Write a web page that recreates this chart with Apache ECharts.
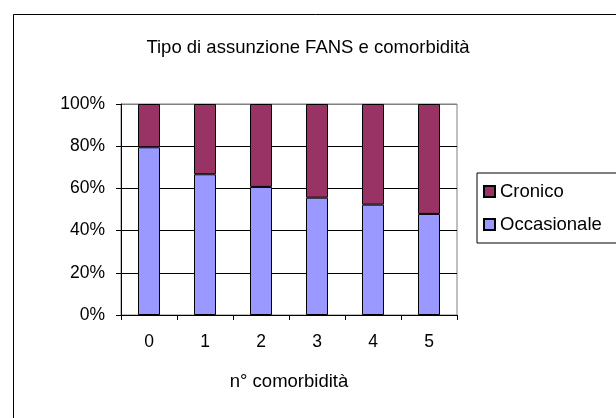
<!DOCTYPE html>
<html>
<head>
<meta charset="utf-8">
<script src="https://cdn.jsdelivr.net/npm/echarts@6/dist/echarts.min.js"></script>
<style>
html,body{margin:0;padding:0;background:#fff;}
#chart{width:616px;height:418px;}
</style>
</head>
<body>
<div id="chart"></div>
<script>
const categories = ['0', '1', '2', '3', '4', '5'];
const occasionale = [79.5, 66.7, 60.7, 55.6, 52.3, 47.9];
const cronico = [20.5, 33.3, 39.3, 44.4, 47.7, 52.1];
const yTicks = [0, 20, 40, 60, 80, 100];

const FONT = '"Liberation Sans", Arial, sans-serif';
const chart = echarts.init(document.getElementById('chart'), null, {renderer: 'canvas'});
chart.setOption({
  backgroundColor: '#fff',
  animation: false,
  title: {
    text: 'Tipo di assunzione FANS e comorbidità',
    left: 'center',
    top: 33,
    textStyle: {fontFamily: FONT, fontSize: 18.5, fontWeight: 'normal', color: '#000'}
  },
  legend: {
    orient: 'vertical',
    left: 477,
    top: 173,
    data: ['Cronico', 'Occasionale'],
    icon: 'rect',
    itemWidth: 11,
    itemHeight: 11,
    itemGap: 12,
    padding: [8, 30, 8, 6],
    borderColor: '#000',
    borderWidth: 1,
    textStyle: {fontFamily: FONT, fontSize: 18.5, color: '#000', lineHeight: 21}
  },
  grid: {left: 121, right: 159, top: 104, bottom: 103, show: true, borderColor: '#808080', borderWidth: 1},
  xAxis: {
    type: 'category',
    data: categories,
    name: 'n° comorbidità',
    nameLocation: 'middle',
    nameGap: 57,
    nameTextStyle: {fontFamily: FONT, fontSize: 18.5, color: '#000'},
    axisLine: {lineStyle: {color: '#000'}},
    axisTick: {show: true, length: 5, lineStyle: {color: '#000'}},
    axisLabel: {fontFamily: FONT, fontSize: 17.5, color: '#000', margin: 18}
  },
  yAxis: {
    type: 'value',
    min: yTicks[0],
    max: yTicks[yTicks.length - 1],
    interval: 20,
    axisLine: {show: true, lineStyle: {color: '#000'}},
    axisTick: {show: true, length: 5, lineStyle: {color: '#000'}},
    axisLabel: {fontFamily: FONT, fontSize: 17.5, color: '#000', margin: 16, formatter: '{value}%'},
    splitLine: {show: true, lineStyle: {color: ['#000', '#000', '#000', '#000', '#000', '#808080'], width: 1}}
  },
  series: [
    {
      name: 'Occasionale', type: 'bar', stack: 'a', data: occasionale, barWidth: 22,
      itemStyle: {color: '#9999FF', borderColor: '#000', borderWidth: 1}
    },
    {
      name: 'Cronico', type: 'bar', stack: 'a', data: cronico, barWidth: 22,
      itemStyle: {color: '#993366', borderColor: '#000', borderWidth: 1}
    }
  ],
  graphic: [{
    type: 'rect', left: 11, top: 12, z: -1,
    shape: {width: 700, height: 500},
    style: {fill: 'none', stroke: '#000', lineWidth: 1}
  }]
});
</script>
</body>
</html>
